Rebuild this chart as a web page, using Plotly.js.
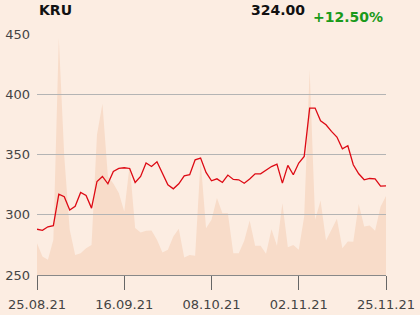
<!DOCTYPE html>
<html>
<head>
<meta charset="utf-8">
<script src="https://cdn.plot.ly/plotly-3.0.1.min.js"></script>
<style>
html,body{margin:0;padding:0;background:#fcede2;}
#chart{width:420px;height:315px;}
</style>
</head>
<body>
<div id="chart"></div>
<script>
// trading-day index positions of tick labels
const tickIndex = [0, 16, 32, 48, 64];
const tickLabels = ["25.08.21", "16.09.21", "08.10.21", "02.11.21", "25.11.21"];

// closing prices (65 trading sessions)
const price = [
  288, 287, 290, 291, 317, 315, 304, 307, 318.5, 316,
  305.5, 327.6, 331.8, 325.7, 336, 338.4, 339, 338.4, 326.8, 331.8,
  342.9, 340, 344, 334.5, 324.9, 321.5, 325.7, 332.3, 333.2, 345.6,
  347, 335.1, 328.2, 329.8, 326.8, 332.9, 329.3, 329, 326.2, 329.6,
  334, 334, 336.8, 340, 342, 326.2, 341, 333.2, 342.9, 348.4,
  388.5, 388.5, 378, 374.7, 369.2, 364.5, 354.8, 357.3, 341.5, 334,
  329, 330.1, 329.8, 323.8, 324
];

// traded volume (relative units)
const volume = [
  26.4, 15.3, 12.6, 29.2, 196.7, 98.4, 37.5, 16.7, 18.1, 22.3,
  25, 116.4, 142.1, 81.8, 76, 68, 52.7, 91.5, 39, 35.3,
  36.7, 37, 29.2, 18.7, 20.9, 32, 38.3, 14.5, 16.7, 15.9,
  95.6, 38.9, 45.8, 63.8, 51.3, 51.3, 18.1, 18.1, 28.5, 45.3,
  24.2, 24.2, 17.6, 38, 24.2, 59.6, 23.1, 25, 20.9, 48.5,
  170.4, 45.8, 61.8, 28.6, 37.5, 46.6, 22.3, 27.8, 27.5, 59,
  40.3, 41, 36.7, 56.7, 65.5
];

const ticker = "KRU";
const lastPrice = "324.00";
const change = "+12.50%";

const idx = price.map((_, i) => i);

const traces = [
  {
    x: idx, y: volume, xaxis: 'x', yaxis: 'y', type: 'scatter', mode: 'lines',
    fill: 'tozeroy', fillcolor: '#f8dcc9', line: {width: 0, color: '#f8dcc9'},
    hoverinfo: 'skip'
  },
  {
    x: idx, y: price, xaxis: 'x2', yaxis: 'y2', type: 'scatter', mode: 'lines',
    line: {color: '#dd0a14', width: 1.3}
  }
];

const layout = {
  width: 420, height: 315,
  paper_bgcolor: '#fcede2', plot_bgcolor: 'rgba(0,0,0,0)',
  margin: {l: 37, r: 34, t: 34, b: 40},
  showlegend: false,
  font: {family: 'DejaVu Sans', size: 13, color: '#444'},
  // volume subplot (hidden axes)
  xaxis: {range: [0, 64], visible: false, showgrid: false, zeroline: false, anchor: 'y'},
  yaxis: {range: [0, 200], visible: false, showgrid: false, zeroline: false, anchor: 'x'},
  // price subplot (drawn on top)
  xaxis2: {
    anchor: 'y2', domain: [0, 1],
    range: [0, 64], tickvals: tickIndex, ticktext: tickLabels,
    showgrid: false, zeroline: false,
    showline: true, linecolor: '#888', linewidth: 1,
    ticks: 'outside', ticklen: 14, tickcolor: '#666', tickwidth: 1,
    ticklabelstandoff: 3,
    tickfont: {family: 'DejaVu Sans', size: 13, color: '#444'}
  },
  yaxis2: {
    anchor: 'x2', domain: [0, 1],
    range: [250, 450], tickvals: [250, 300, 350, 400, 450],
    showgrid: true, gridcolor: '#b4b4b4', gridwidth: 1,
    zeroline: false, showline: false, ticks: '',
    ticklabelstandoff: 6,
    tickfont: {family: 'DejaVu Sans', size: 13, color: '#444'}
  },
  annotations: [
    {text: '<b>' + ticker + '</b>', xref: 'paper', yref: 'paper', x: 0, y: 1,
     xanchor: 'left', yanchor: 'bottom', yshift: 14, showarrow: false,
     font: {family: 'DejaVu Sans', size: 14, color: '#111'}},
    {text: '<b>' + lastPrice + '</b>', xref: 'paper', yref: 'paper', x: 0.774, y: 1,
     xanchor: 'right', yanchor: 'bottom', yshift: 14, showarrow: false,
     font: {family: 'DejaVu Sans', size: 14, color: '#111'}},
    {text: '<b>' + change + '</b>', xref: 'paper', yref: 'paper', x: 0.997, y: 1,
     xanchor: 'right', yanchor: 'bottom', yshift: 7, showarrow: false,
     font: {family: 'DejaVu Sans', size: 14, color: '#1a9a1a'}}
  ]
};

Plotly.newPlot('chart', traces, layout, {displayModeBar: false, staticPlot: true});
</script>
</body>
</html>
